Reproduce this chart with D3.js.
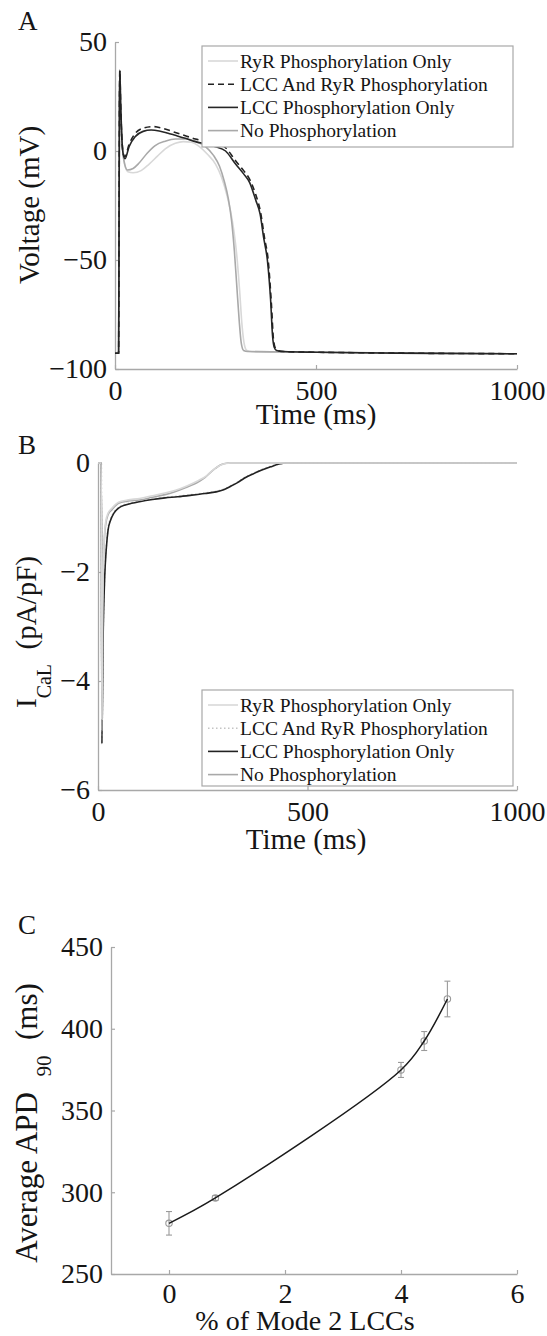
<!DOCTYPE html>
<html>
<head>
<meta charset="utf-8">
<title>Phosphorylation and APD</title>
<script src="https://d3js.org/d3.v7.min.js"></script>
<style>
  body { margin: 0; background: #fff; }
  text { font-family: "Liberation Serif", "Times New Roman", serif; fill: #151515; }
</style>
</head>
<body>
<script>
// ---- data -------------------------------------------------------------
var seriesNames = ["RyR Phosphorylation Only", "LCC And RyR Phosphorylation",
                   "LCC Phosphorylation Only", "No Phosphorylation"];

// panel A : membrane voltage (ms, mV)
var tA_ryr  = [0, 9, 10, 11, 12, 14, 18, 24, 32, 45, 65, 85, 105, 125, 150, 170, 190, 210, 230, 250, 265, 278, 288, 296, 303, 310, 316, 322, 328, 340, 500, 700, 1000];
var vA_ryr  = [-92.8, -92.8, -40, 20, 37, 20, 3, -6, -9.5, -10, -9, -6, -2.5, 1, 3.5, 4.3, 4, 2, -1.5, -6, -12, -20, -28, -37, -48, -64, -80, -89, -91.5, -92, -92.3, -92.7, -93];
var tA_both = [0, 9, 10, 11, 12, 14, 17, 21, 25, 35, 50, 70, 95, 120, 150, 175, 200, 225, 250, 275, 300, 320, 335, 350, 362, 372, 381, 389, 394, 399, 405, 420, 500, 700, 1000];
var vA_both = [-92.8, -92.8, -40, 20, 37, 22, 6, -1.5, -2.5, 3, 8, 10.5, 11.2, 10.3, 8.5, 7, 5.5, 4.5, 3.5, 1.5, -4.5, -9, -13, -20, -28, -40, -50, -70, -86, -90.5, -91.5, -92, -92.3, -92.7, -93];
var tA_lcc  = [0, 9, 10, 11, 12, 14, 17, 21, 25, 35, 50, 70, 90, 110, 130, 150, 175, 200, 225, 250, 275, 300, 320, 335, 350, 361, 370, 379, 387, 392, 396, 402, 420, 500, 700, 1000];
var vA_lcc  = [-92.8, -92.8, -40, 20, 37, 22, 6, -2, -3.5, 2, 6.5, 9, 9.6, 9.2, 8.3, 7.2, 5.8, 4.3, 3.2, 2, 0, -6, -10.5, -14.5, -22.5, -29, -40, -50, -68, -85, -90, -91.5, -92, -92.3, -92.7, -93];
var tA_none = [0, 9, 10, 11, 12, 14, 18, 24, 31, 45, 60, 80, 100, 125, 150, 175, 200, 225, 245, 260, 272, 282, 290, 297, 303, 309, 314, 320, 330, 500, 700, 1000];
var vA_none = [-92.8, -92.8, -40, 20, 37, 20, 3, -6, -8.7, -8, -5.5, -1, 2.5, 4.5, 5.5, 5.5, 4.5, 2, -2, -7, -14, -22, -32, -46, -62, -78, -88, -91.5, -92, -92.3, -92.7, -93];

// panel B : L-type Ca current (ms, pA/pF)
var tB_ryr  = [0, 8, 9.3, 11, 14, 18, 24, 33, 49, 70, 99, 130, 160, 185, 212, 240, 258, 270, 283, 295, 305, 315, 1000];
var iB_ryr  = [0, 0, -4.7, -2.7, -1.55, -1.1, -0.92, -0.83, -0.72, -0.68, -0.65, -0.6, -0.55, -0.5, -0.42, -0.32, -0.24, -0.16, -0.08, -0.03, -0.01, 0, 0];
var tB_both = [0, 8, 9.3, 12, 16, 20, 24, 30, 38, 49, 65, 80, 99, 130, 160, 190, 224, 255, 282, 300, 316, 333, 349, 370, 391, 412, 432, 450, 1000];
var iB_both = [0, 0, -5.1, -3.3, -2.05, -1.52, -1.2, -1.03, -0.9, -0.82, -0.76, -0.73, -0.7, -0.66, -0.63, -0.61, -0.58, -0.55, -0.52, -0.48, -0.42, -0.35, -0.27, -0.19, -0.12, -0.06, -0.02, 0, 0];
var tB_lcc  = [0, 8, 9.3, 12, 16, 20, 24, 30, 38, 49, 65, 80, 99, 130, 160, 190, 224, 255, 282, 300, 316, 333, 349, 370, 391, 412, 432, 450, 1000];
var iB_lcc  = [0, 0, -5.15, -3.3, -2.09, -1.55, -1.23, -1.05, -0.92, -0.83, -0.77, -0.74, -0.71, -0.67, -0.64, -0.62, -0.59, -0.56, -0.53, -0.49, -0.43, -0.36, -0.28, -0.2, -0.13, -0.07, -0.02, 0, 0];
var tB_none = [0, 8, 9.3, 11, 14, 18, 24, 33, 49, 70, 99, 130, 160, 182, 210, 241, 255, 266, 280, 291, 300, 310, 1000];
var iB_none = [0, 0, -4.9, -2.8, -1.6, -1.15, -0.95, -0.86, -0.74, -0.7, -0.68, -0.63, -0.58, -0.53, -0.45, -0.34, -0.27, -0.19, -0.1, -0.04, -0.015, 0, 0];

// panel C : APD90 vs mode 2 fraction
var mode2Pct = [0, 0.8, 4.0, 4.4, 4.8];
var apdMean  = [281, 296.5, 374.8, 392.5, 418.2];
var apdErr   = [7.2, 1.5, 4.6, 5.8, 10.9];

var ticksAx = [0, 500, 1000], ticksAy = [-100, -50, 0, 50];
var ticksBx = [0, 500, 1000], ticksBy = [-6, -4, -2, 0];
var ticksCx = [0, 2, 4, 6],   ticksCy = [250, 300, 350, 400, 450];

// ---- drawing ----------------------------------------------------------
var svg = d3.select("body").append("svg").attr("width", 547).attr("height", 1336);
var axisColor = "#a8a8a8";
var fmt = d3.format("d");

function zip(t, v) { return t.map(function(d, i) { return [d, v[i]]; }); }

function drawAxes(x, y, xt, yt, fs, padX) {
  var gx = svg.append("g")
    .attr("transform", "translate(0," + y.range()[0] + ")")
    .call(d3.axisBottom(x).tickValues(xt).tickFormat(fmt).tickSizeInner(-4).tickSizeOuter(0).tickPadding(padX));
  var gy = svg.append("g")
    .attr("transform", "translate(" + x.range()[0] + ",0)")
    .call(d3.axisLeft(y).tickValues(yt).tickFormat(fmt).tickSizeInner(-4).tickSizeOuter(0).tickPadding(8));
  [gx, gy].forEach(function(g) {
    g.attr("font-family", null).attr("font-size", null);
    g.select(".domain").attr("stroke", axisColor).attr("stroke-width", 1.3);
    g.selectAll(".tick line").attr("stroke", axisColor).attr("stroke-width", 1.2);
    g.selectAll(".tick text").attr("fill", "#151515").style("font-size", fs + "px");
  });
}

function drawLegend(x0, y0, w, h, styles) {
  var g = svg.append("g");
  g.append("rect").attr("x", x0).attr("y", y0).attr("width", w).attr("height", h)
    .attr("fill", "#fff").attr("stroke", axisColor).attr("stroke-width", 1.2);
  seriesNames.forEach(function(n, i) {
    var yy = y0 + 15 + i * 23.2;
    g.append("line").attr("x1", x0 + 6).attr("x2", x0 + 36).attr("y1", yy).attr("y2", yy)
      .attr("stroke", styles[i].c).attr("stroke-width", styles[i].w)
      .attr("stroke-dasharray", styles[i].d);
    g.append("text").attr("x", x0 + 38).attr("y", yy + 6.5).style("font-size", "19.5px").text(n);
  });
}

function drawSeries(x, y, list, styles, curve) {
  var line = d3.line().x(function(d) { return x(d[0]); }).y(function(d) { return y(d[1]); }).curve(curve);
  list.forEach(function(s, i) {
    svg.append("path").datum(s).attr("d", line).attr("fill", "none")
      .attr("stroke", styles[i].c).attr("stroke-width", styles[i].w)
      .attr("stroke-dasharray", styles[i].d);
  });
}

// Panel A
var xA = d3.scaleLinear().domain([0, 1000]).range([115, 517]);
var yA = d3.scaleLinear().domain([-100, 50]).range([369, 42]);
var stA = [{c: "#d8d8d8", w: 1.6, d: null}, {c: "#222", w: 1.6, d: "6,4"},
           {c: "#262626", w: 1.6, d: null}, {c: "#a9a9a9", w: 1.6, d: null}];
drawAxes(xA, yA, ticksAx, ticksAy, 28, 11);
// draw order: RyR, none, LCC, both
drawSeries(xA, yA,
  [zip(tA_ryr, vA_ryr), zip(tA_none, vA_none), zip(tA_lcc, vA_lcc), zip(tA_both, vA_both)],
  [stA[0], stA[3], stA[2], stA[1]], d3.curveMonotoneX);
drawLegend(202, 46, 311, 101, stA);

// Panel B
var xB = d3.scaleLinear().domain([0, 1000]).range([98, 517]);
var yB = d3.scaleLinear().domain([-6, 0]).range([790, 463]);
var stB = [{c: "#d8d8d8", w: 1.6, d: null}, {c: "#c4c4c4", w: 1.6, d: "1.5,2.5"},
           {c: "#222", w: 1.6, d: null}, {c: "#a9a9a9", w: 1.6, d: null}];
drawAxes(xB, yB, ticksBx, ticksBy, 28, 11);
drawSeries(xB, yB,
  [zip(tB_both, iB_both), zip(tB_lcc, iB_lcc), zip(tB_none, iB_none), zip(tB_ryr, iB_ryr)],
  [stB[1], stB[2], stB[3], stB[0]], d3.curveMonotoneX);
drawLegend(202, 690, 311, 96, stB);

// Panel C
var xC = d3.scaleLinear().domain([-1, 6]).range([111, 517]);
var yC = d3.scaleLinear().domain([250, 450]).range([1274, 947]);
drawAxes(xC, yC, ticksCx, ticksCy, 28, 9);
var cData = mode2Pct.map(function(m, i) { return {x: m, y: apdMean[i], e: apdErr[i]}; });
var eb = svg.append("g").attr("stroke", "#9a9a9a").attr("stroke-width", 1.1).attr("fill", "none");
cData.forEach(function(d) {
  var cx = xC(d.x);
  eb.append("line").attr("x1", cx).attr("x2", cx).attr("y1", yC(d.y - d.e)).attr("y2", yC(d.y + d.e));
  eb.append("line").attr("x1", cx - 3).attr("x2", cx + 3).attr("y1", yC(d.y - d.e)).attr("y2", yC(d.y - d.e));
  eb.append("line").attr("x1", cx - 3).attr("x2", cx + 3).attr("y1", yC(d.y + d.e)).attr("y2", yC(d.y + d.e));
  eb.append("circle").attr("cx", cx).attr("cy", yC(d.y)).attr("r", 3.2);
});
svg.append("path").datum(cData)
  .attr("d", d3.line().x(function(d) { return xC(d.x); }).y(function(d) { return yC(d.y); })
    .curve(d3.curveCatmullRom.alpha(0.5)))
  .attr("fill", "none").attr("stroke", "#1a1a1a").attr("stroke-width", 1.5);

// ---- labels -----------------------------------------------------------
function label(x, y, s, fs) {
  return svg.append("text").attr("x", x).attr("y", y).style("font-size", fs + "px").text(s);
}
label(18, 30, "A", 27);
label(18, 454, "B", 27);
label(18, 934, "C", 27);

label(316, 424, "Time (ms)", 29).attr("text-anchor", "middle");
label(306, 849, "Time (ms)", 29).attr("text-anchor", "middle");
label(305, 1330, "% of Mode 2 LCCs", 28).attr("text-anchor", "middle");

svg.append("text").attr("transform", "translate(39,205) rotate(-90)")
  .attr("text-anchor", "middle").style("font-size", "29px").text("Voltage (mV)");

var tb = svg.append("text").attr("transform", "translate(36,632) rotate(-90)")
  .attr("text-anchor", "middle").style("font-size", "29px");
tb.append("tspan").text("I");
tb.append("tspan").attr("dy", 15).style("font-size", "20px").text("CaL");
tb.append("tspan").attr("dy", -15).text("\u00a0 (pA/pF)");

var tc = svg.append("text").attr("transform", "translate(37,1123) rotate(-90)")
  .attr("text-anchor", "middle").style("font-size", "31px");
tc.append("tspan").text("Average APD\u00a0 ");
tc.append("tspan").attr("dy", 14).style("font-size", "21px").text("90");
tc.append("tspan").attr("dy", -14).text("\u00a0 (ms)");
</script>
</body>
</html>
